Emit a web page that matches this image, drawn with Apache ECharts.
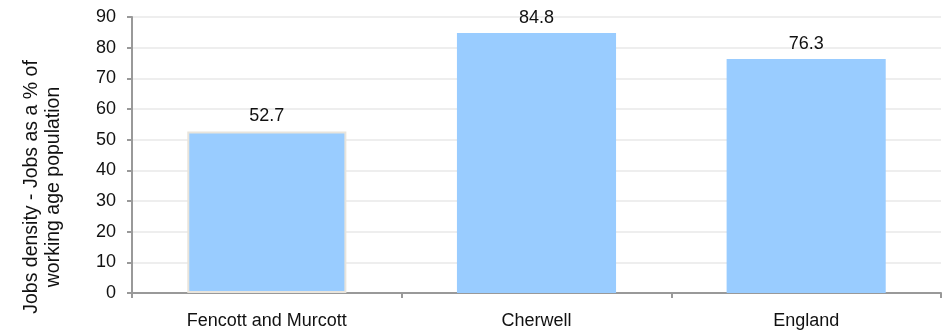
<!DOCTYPE html>
<html><head><meta charset="utf-8">
<script src="https://cdn.jsdelivr.net/npm/echarts@6/dist/echarts.min.js"></script>
<style>html,body{margin:0;padding:0;background:#fff}#c{width:944px;height:332px}</style>
</head><body><div id="c"></div>
<script>
const categories = ["Fencott and Murcott", "Cherwell", "England"];
const values = [52.7, 84.8, 76.3];
const yTicks = [0, 90, 10];
const yTitle = "Jobs density - Jobs as a % of\nworking age population";

const chart = echarts.init(document.getElementById('c'), null, {renderer: 'canvas'});
const font = "'Liberation Sans', Arial, sans-serif";
chart.setOption({
  animation: false,
  grid: {left: 132, right: 3, top: 17, bottom: 39},
  graphic: [{
    type: 'text', x: 43, y: 187, rotation: Math.PI / 2,
    style: {text: yTitle, fill: '#111', font: '19.5px ' + font, align: 'center', verticalAlign: 'middle', lineHeight: 22}
  }],
  xAxis: {
    type: 'category', data: categories,
    axisLine: {lineStyle: {color: '#999', width: 2}},
    axisTick: {show: true, alignWithLabel: false, length: 5, lineStyle: {color: '#999', width: 2}},
    axisLabel: {color: '#111', fontSize: 18, fontFamily: font, margin: 19}
  },
  yAxis: {
    type: 'value', min: yTicks[0], max: yTicks[1], interval: yTicks[2],
    axisLine: {show: true, lineStyle: {color: '#999', width: 2}},
    axisTick: {show: true, length: 5, lineStyle: {color: '#999', width: 2}},
    axisLabel: {color: '#111', fontSize: 18, fontFamily: font, margin: 16},
    splitLine: {lineStyle: {color: '#eeeeee', width: 2}}
  },
  series: [{
    type: 'bar', barWidth: '59%',
    data: values.map((v, i) => i === 0 ? {value: v, itemStyle: {borderColor: '#e8e4dc', borderWidth: 2}} : v),
    itemStyle: {color: '#99ccff'},
    label: {show: true, position: 'top', color: '#111', fontSize: 18, fontFamily: font, distance: 6}
  }]
});
</script></body></html>
